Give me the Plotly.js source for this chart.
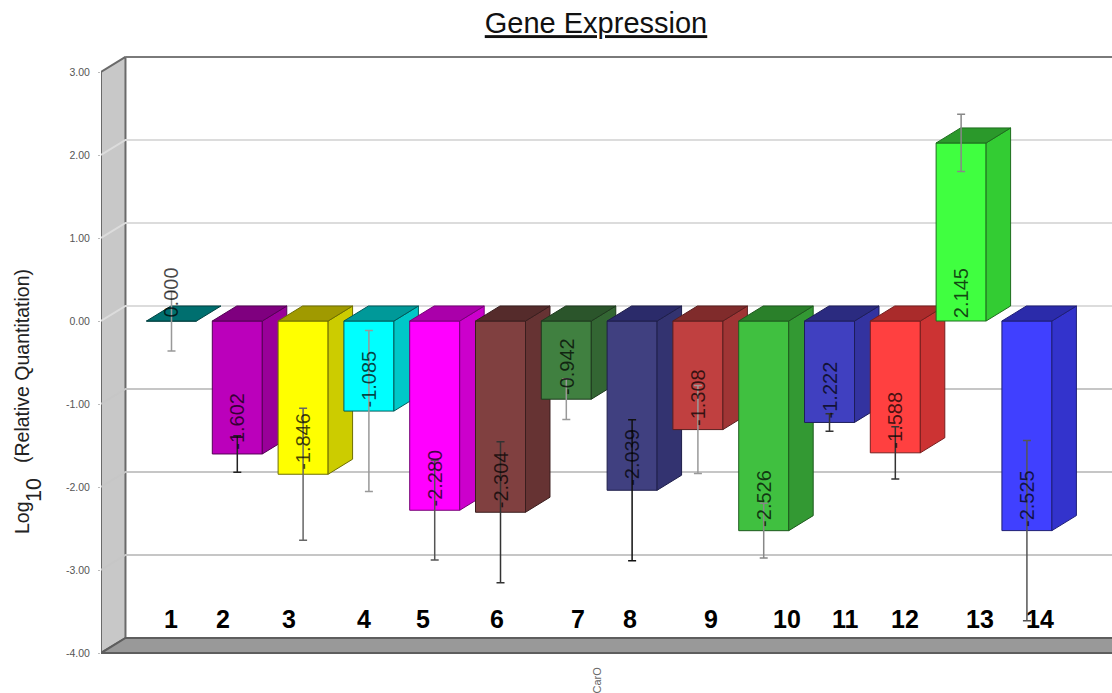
<!DOCTYPE html>
<html>
<head>
<meta charset="utf-8">
<title>Gene Expression</title>
<script src="https://cdn.plot.ly/plotly-3.0.1.min.js"></script>
<style>html,body{margin:0;padding:0;background:#fff;overflow:hidden}</style>
</head>
<body>
<div id="chart" style="width:1112px;height:693px"></div>
<script>
const categories = [1,2,3,4,5,6,7,8,9,10,11,12,13,14];
const values = [0,-1.602,-1.846,-1.085,-2.280,-2.304,-0.942,-2.039,-1.308,-2.526,-1.222,-1.588,2.145,-2.525];
const valueLabels = ["0.000","-1.602","-1.846","-1.085","-2.280","-2.304","-0.942","-2.039","-1.308","-2.526","-1.222","-1.588","2.145","-2.525"];
const errors = [0.36,0.22,0.795,0.97,0.60,0.85,0.245,0.848,0.53,0.33,0.105,0.315,0.345,1.085];
const frontColors = ["#008080","#bb00bb","#ffff00","#00ffff","#ff00ff","#804040","#408040","#404080","#c04040","#40c040","#4040c0","#ff4040","#40ff40","#4040ff"];
const topColors = ["#006f6f","#7f007f","#a09a00","#009999","#aa00aa","#552b2b","#2b552b","#2b2b6a","#802b2b","#2a802a","#2b2b80","#aa2b2b","#2b992b","#2b2baa"];
const sideColors = ["#006666","#990099","#cccc00","#00c8c8","#cc00cc","#663333","#336633","#333370","#a03535","#339933","#3333a0","#cc3333","#33cc33","#3333cc"];
const edgeColors = ["#004040","#550055","#6e6e00","#005a5a","#770077","#3a1e1e","#1e3a1e","#1e1e4a","#5a1e1e","#1e5a1e","#1e1e5a","#771e1e","#1e6e1e","#1e1e77"];
const errorColors = ["#999999","#222222","#666666","#999999","#555555","#333333","#999999","#111111","#999999","#888888","#333333","#333333","#888888","#555555"];
const tickValues = [-4,-3,-2,-1,0,1,2,3];
const tickLabels = ["-4.00","-3.00","-2.00","-1.00","0.00","1.00","2.00","3.00"];
const gridValues = [-3,-2,-1,0,1,2];
const numberPositions = [0.99,1.78,2.79,3.93,4.82,5.95,7.18,7.97,9.2,10.35,11.24,12.15,13.29,14.2];

const XMIN=-0.0714, XMAX=15.293, YMIN=-4.084, YMAX=3.265;
const DX=0.372, DY=0.181, BARW=0.76;
const WALLX=XMIN, FLOORV=-4, TOPV=3;
const FONT='"Liberation Sans", Arial, sans-serif';

const traces=[];
function poly(x,y,fill,line,lw,xa,ya){
  traces.push({type:'scatter',mode:'lines',x:x,y:y,fill:'toself',fillcolor:fill,
    line:{color:line,width:lw},xaxis:xa||'x',yaxis:ya||'y',hoverinfo:'skip',showlegend:false});
}
function path(x,y,color,w){
  traces.push({type:'scatter',mode:'lines',x:x,y:y,line:{color:color,width:w},
    xaxis:'x',yaxis:'y',hoverinfo:'skip',showlegend:false});
}

// walls and floor
poly([WALLX,WALLX+DX,WALLX+DX,WALLX,WALLX],[TOPV,TOPV+DY,FLOORV+DY,FLOORV,TOPV],'#c8c8c8','#6a6a6a',2);
poly([WALLX,XMAX+2,XMAX+2,WALLX+DX,WALLX],[FLOORV,FLOORV,FLOORV+DY,FLOORV+DY,FLOORV],'#999999','#5e5e5e',2);
path([WALLX+DX,XMAX],[TOPV+DY,TOPV+DY],'#7a7a7a',2);
gridValues.forEach(v=>{
  path([WALLX,WALLX+DX,XMAX],[v,v+DY,v+DY], v<0?'#c6c6c6':'#dcdcdc',2);
});

// one overlay subplot per bar, so each bar covers the side of the one before it
const layoutAxes={};
categories.forEach((c,i)=>{
  const n=i+2, xa='x'+n, ya='y'+n;
  layoutAxes['xaxis'+n]={overlaying:'x',range:[XMIN,XMAX],visible:false,fixedrange:true};
  layoutAxes['yaxis'+n]={overlaying:'y',range:[YMIN,YMAX],visible:false,fixedrange:true};
  const v=values[i], l=c-BARW/2, r=c+BARW/2, t=Math.max(v,0), b=Math.min(v,0);
  traces.push({type:'bar',x:[c],y:[v],width:BARW,marker:{color:frontColors[i],line:{color:edgeColors[i],width:1}},
    xaxis:xa,yaxis:ya,hoverinfo:'skip',showlegend:false});
  if(t!==b) poly([r,r+DX,r+DX,r,r],[t,t+DY,b+DY,b,t],sideColors[i],edgeColors[i],1,xa,ya);
  poly([l,r,r+DX,l+DX,l],[t,t,t+DY,t+DY,t],topColors[i],edgeColors[i],1,xa,ya);
});

// error bars on the topmost subplot
const eN=categories.length+2;
layoutAxes['xaxis'+eN]={overlaying:'x',range:[XMIN,XMAX],visible:false,fixedrange:true};
layoutAxes['yaxis'+eN]={overlaying:'y',range:[YMIN,YMAX],visible:false,fixedrange:true};
categories.forEach((c,i)=>{
  traces.push({type:'scatter',mode:'markers',x:[c],y:[values[i]],marker:{size:1,color:errorColors[i],opacity:0},
    error_y:{type:'data',array:[errors[i]],symmetric:true,color:errorColors[i],thickness:1.5,width:4},
    xaxis:'x'+eN,yaxis:'y'+eN,hoverinfo:'skip',showlegend:false});
});

const annotations=[];
categories.forEach((c,i)=>{
  annotations.push({x:c,y:Math.min(values[i],0),xref:'x',yref:'y',text:valueLabels[i],textangle:-90,showarrow:false,
    xanchor:'center',yanchor:'bottom',yshift:values[i]<0?2:1,
    font:{family:FONT,size:20,color:'rgba(0,0,0,0.72)'}});
  annotations.push({x:numberPositions[i],y:-3.59,xref:'x',yref:'y',text:'<b>'+c+'</b>',showarrow:false,
    xanchor:'center',yanchor:'middle',font:{family:FONT,size:25,color:'#000'}});
});
annotations.push({x:7.466,y:0,xref:'x',yref:'paper',yshift:-4,text:'CarO',textangle:-90,showarrow:false,
  xanchor:'center',yanchor:'top',font:{family:FONT,size:11,color:'#666'}});
// y-axis title: the subscript sits lower and larger than <sub> allows, so it is placed as its own text
function yTitle(text,xPx,yPx,size){
  annotations.push({x:(xPx-101)/1011,y:1-(yPx-50)/610,xref:'paper',yref:'paper',text:text,textangle:-90,showarrow:false,
    xanchor:'center',yanchor:'middle',font:{family:FONT,size:size,color:'#222'}});
}
yTitle('Log',22,518,19.5);
yTitle('10',34,490,21.5);
yTitle('(Relative Quantitation)',22,366,19.5);

const layout=Object.assign({
  width:1112,height:693,autosize:false,
  margin:{l:101,r:0,t:50,b:33,pad:0},
  paper_bgcolor:'#fff',plot_bgcolor:'#fff',
  barmode:'overlay',hovermode:false,showlegend:false,
  title:{text:'<u>Gene Expression</u>',x:596/1112,y:1-23/693,xref:'container',yref:'container',xanchor:'center',yanchor:'middle',
    font:{family:FONT,size:29,color:'#111'}},
  xaxis:{range:[XMIN,XMAX],visible:false,fixedrange:true},
  yaxis:{range:[YMIN,YMAX],tickmode:'array',tickvals:tickValues,ticktext:tickLabels,showgrid:false,zeroline:false,showline:false,
    ticks:'outside',ticklen:2,tickcolor:'#bbb',ticklabelstandoff:6,tickfont:{family:FONT,size:10.5,color:'#555'},fixedrange:true},
  annotations:annotations
},layoutAxes);

Plotly.newPlot('chart',traces,layout,{displayModeBar:false,staticPlot:true});
</script>
</body>
</html>
